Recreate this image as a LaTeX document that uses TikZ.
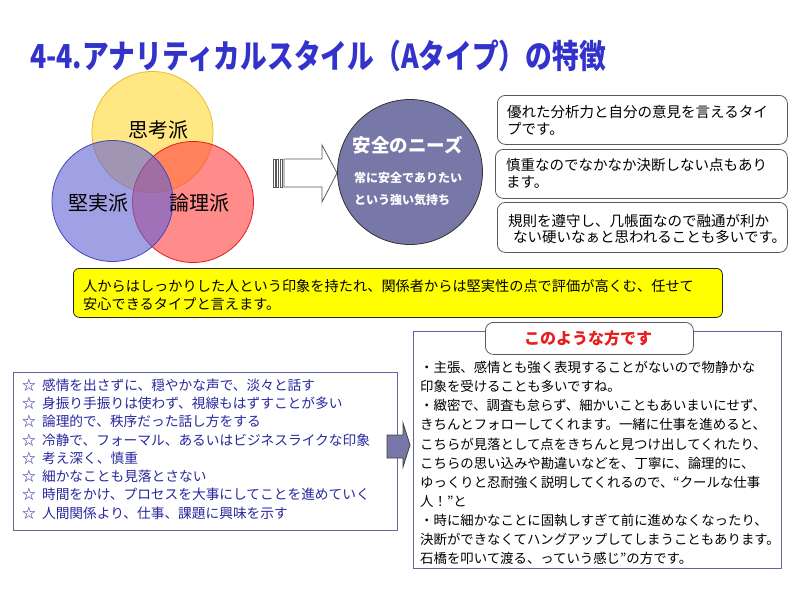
\documentclass[tikz,border=0pt]{standalone}
\usepackage{fontspec}
\usepackage{graphicx}
\setmainfont{Noto Sans CJK JP}
\definecolor{titleblue}{RGB}{51,51,204}
\definecolor{vyel}{RGB}{255,215,50}
\definecolor{vyelb}{RGB}{235,190,40}
\definecolor{vblue}{RGB}{97,97,212}
\definecolor{vblueb}{RGB}{70,70,190}
\definecolor{vred}{RGB}{255,63,63}
\definecolor{vredb}{RGB}{225,30,30}
\definecolor{safefill}{RGB}{120,120,168}
\definecolor{boxgray}{RGB}{90,90,90}
\definecolor{listblue}{RGB}{40,40,160}
\definecolor{frameblue}{RGB}{100,100,165}
\definecolor{redtext}{RGB}{230,30,30}
\definecolor{ybox}{RGB}{255,255,0}
\tikzset{
  venn/.style={circle, inner sep=0pt, minimum size=121pt, fill opacity=0.6, line width=0.8pt},
  vlabel/.style={inner sep=0pt, font=\fontsize{20}{20}\selectfont},
  rbox/.style={draw=boxgray, fill=white, rounded corners=8pt, line width=0.8pt, inner sep=0pt, anchor=north west},
  btext/.style={anchor=west, inner sep=0pt, align=left, font=\fontsize{14.5}{16.7}\selectfont},
  sqbox/.style={draw=frameblue, fill=white, line width=0.8pt, inner sep=0pt, anchor=north west},
}
\newcommand{\mystar}{☆\hspace{0.45em}}
\begin{document}
\begin{tikzpicture}[x=1pt,y=-1pt]
\useasboundingbox[fill=white] (0,0) rectangle (800,600);

% title
\node[anchor=west, inner sep=0pt, text=titleblue] (title) at (30,56)
  {\scalebox{0.81}[1]{\fontsize{33}{33}\selectfont\bfseries 4-4.アナリティカルスタイル（Aタイプ）の特徴}};

% Venn diagram
\node[venn, fill=vyel, draw=vyelb, draw opacity=1] (yc) at (152.5,132) {};
\node[venn, fill=vred, draw=vredb, draw opacity=1] (rc) at (193,202) {};
\node[venn, fill=vblue, draw=vblueb, draw opacity=1] (bc) at (112.5,201) {};
\node[vlabel] (lshi) at (158,130) {思考派};
\node[vlabel] (lken) at (98,203) {堅実派};
\node[vlabel] (lron) at (199,203) {論理派};

% block arrow
\foreach \xa in {273,276.5,280}
  \draw[draw=boxgray, fill=white, line width=0.6pt] (\xa,159) rectangle ++(2.2,28);
\draw[draw=boxgray, fill=white, line width=0.8pt]
  (284,159) -- (322,159) -- (322,145) -- (337,173) -- (322,202) -- (322,187) -- (284,187) -- cycle;

% safety circle
\node[circle, inner sep=0pt, minimum size=145pt, fill=safefill, draw=black!80, line width=0.8pt] (safe) at (410,172) {};
\node[inner sep=0pt, text=white, font=\fontsize{18.5}{18.5}\selectfont\bfseries] (safet) at (408,145) {安全のニーズ};
\node[anchor=west, inner sep=0pt, align=left, text=white, font=\fontsize{12}{22}\selectfont\bfseries] (safes) at (354,189)
  {常に安全でありたい\\という強い気持ち};

% right boxes
\node[rbox, minimum width=290pt, minimum height=49pt] (b1) at (497,95) {};
\node[rbox, minimum width=292pt, minimum height=49pt] (b2) at (495,149) {};
\node[rbox, minimum width=290pt, minimum height=50pt] (b3) at (497,202) {};
\node[btext] (t1) at (507,120) {優れた分析力と自分の意見を言えるタイ\\プです。};
\node[btext] (t2) at (506,173) {慎重なのでなかなか決断しない点もあり\\ます。};
\node[btext] (t3) at (508,229) {規則を遵守し、几帳面なので融通が利か\\\hspace*{5pt}ない硬いなぁと思われることも多いです。};

% yellow box
\node[draw=black!85, fill=ybox, rounded corners=6pt, line width=0.8pt, inner sep=0pt, anchor=north west,
  minimum width=649pt, minimum height=49pt] (yb) at (73,268) {};
\node[anchor=west, inner sep=0pt, align=left, font=\fontsize{14.2}{17.8}\selectfont] (yt) at (83,295)
  {人からはしっかりした人という印象を持たれ、関係者からは堅実性の点で評価が高くむ、任せて\\安心できるタイプと言えます。};

% left list box
\node[sqbox, minimum width=384pt, minimum height=158pt] (lb) at (13,372) {};
\node[anchor=west, inner sep=0pt, align=left, text=listblue, font=\fontsize{13.7}{18.3}\selectfont] (lt) at (22,449)
  {\mystar 感情を出さずに、穏やかな声で、淡々と話す\\
   \mystar 身振り手振りは使わず、視線もはずすことが多い\\
   \mystar 論理的で、秩序だった話し方をする\\
   \mystar 冷静で、フォーマル、あるいはビジネスライクな印象\\
   \mystar 考え深く、慎重\\
   \mystar 細かなことも見落とさない\\
   \mystar 時間をかけ、プロセスを大事にしてことを進めていく\\
   \mystar 人間関係より、仕事、課題に興味を示す};

% small arrow
\draw[draw=black!75, fill=safefill, line width=0.8pt]
  (387,435) -- (403,435) -- (403,423) -- (410,445) -- (403,467) -- (403,458) -- (387,458) -- cycle;

% big right box
\node[sqbox, minimum width=368pt, minimum height=237pt] (rb) at (413,331) {};
\node[rbox, minimum width=208pt, minimum height=32pt] (hb) at (485,322) {};
\node[inner sep=0pt, text=redtext, font=\fontsize{16}{16}\selectfont\bfseries] (ht) at (588,338) {このような方です};
\node[anchor=west, inner sep=0pt, align=left, font=\fontsize{13.4}{19.1}\selectfont] (rt) at (420,463)
  {・主張、感情とも強く表現することがないので物静かな\\
   印象を受けることも多いですね。\\
   ・緻密で、調査も怠らず、細かいこともあいまいにせず、\\
   きちんとフォローしてくれます。一緒に仕事を進めると、\\
   こちらが見落として点をきちんと見つけ出してくれたり、\\
   こちらの思い込みや勘違いなどを、丁寧に、論理的に、\\
   ゆっくりと忍耐強く説明してくれるので、“クールな仕事\\
   人！”と\\
   ・時に細かなことに固執しすぎて前に進めなくなったり、\\
   決断ができなくてハングアップしてしまうこともあります。\\
   石橋を叩いて渡る、っていう感じ”の方です。};
\end{tikzpicture}
\end{document}
